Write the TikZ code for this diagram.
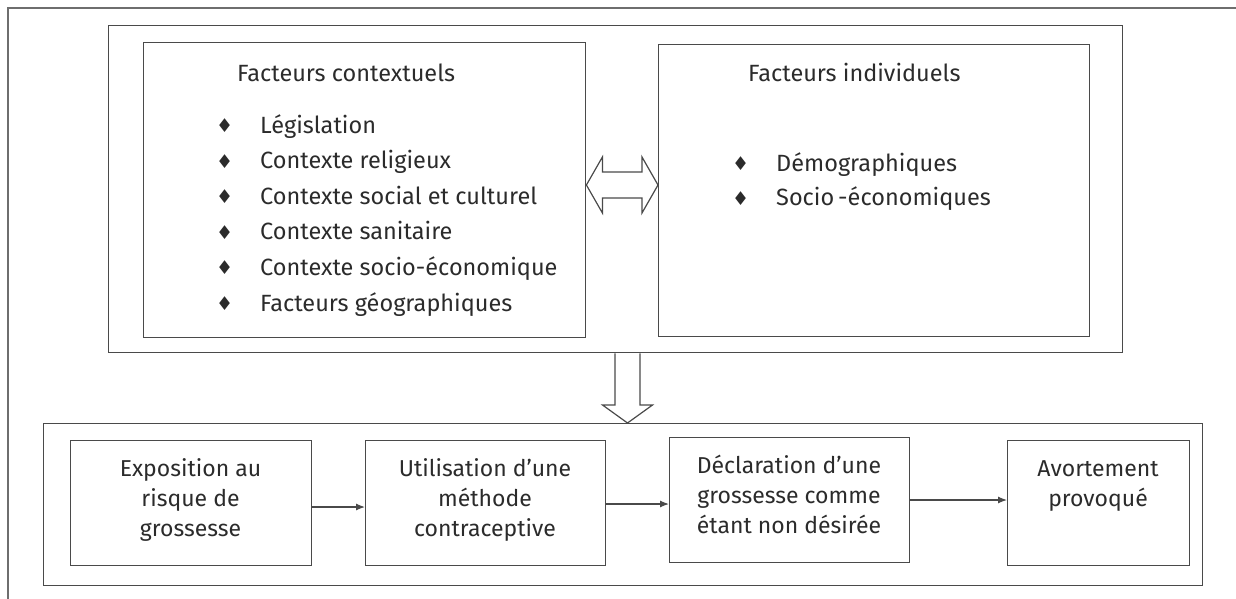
\documentclass[tikz,border=0pt]{standalone}
\usepackage{fontspec}
\setmainfont{Fira Sans}
\newfontfamily\symfont{DejaVu Sans}
\usetikzlibrary{arrows.meta,calc}
\definecolor{txt}{HTML}{2B2B2B}
\definecolor{ln}{HTML}{4A4A4A}
\definecolor{frm}{HTML}{6E6E6E}
\newcommand{\bul}{{\symfont\fontsize{19}{19}\selectfont ♦}}
\newcommand{\itm}[1]{\makebox[44pt][l]{\raisebox{0.5pt}{\bul}}#1}
\begin{document}
\begin{tikzpicture}[x=1pt,y=-1pt,
  box/.style={draw=ln, line width=1.4pt, inner sep=0pt, anchor=north west},
  lbl/.style={text=txt, inner sep=0pt, font=\fontsize{23}{30}\selectfont},
  item/.style={text=txt, inner sep=0pt, font=\fontsize{23.5}{30}\selectfont, anchor=base west},
  flow/.style={draw=ln, line width=1.2pt, -{Latex[length=9pt,width=7pt]}},
  big/.style={draw=ln, line width=1.2pt, fill=white, line join=miter}]
\useasboundingbox (0,0) rectangle (1236,599);
\draw[draw=frm, line width=1.6pt] (8,599) -- (8,8) -- (1236,8);

% containers and boxes
\node[box, minimum width=1014pt, minimum height=327pt] (T) at (108,25) {};
\node[box, minimum width=442pt, minimum height=295pt] (L) at (143,42) {};
\node[box, minimum width=431pt, minimum height=292pt] (R) at (658,44) {};
\node[box, minimum width=1159pt, minimum height=162pt] (B) at (43,423) {};
\node[box, minimum width=241pt, minimum height=125pt] (b1) at (70,440) {};
\node[box, minimum width=240pt, minimum height=125pt] (b2) at (365,440) {};
\node[box, minimum width=240pt, minimum height=125pt] (b3) at (669,437) {};
\node[box, minimum width=182pt, minimum height=125pt] (b4) at (1007,440) {};

% left box text
\node[item] (lt) at (237,82) {Facteurs contextuels};
\node[item] (c1) at (216,133) {\itm{Législation}};
\node[item] (c2) at (216,168.6) {\itm{Contexte religieux}};
\node[item] (c3) at (216,204.2) {\itm{Contexte social et culturel}};
\node[item] (c4) at (216,239.8) {\itm{Contexte sanitaire}};
\node[item] (c5) at (216,275.4) {\itm{Contexte socio-économique}};
\node[item] (c6) at (216,311) {\itm{Facteurs géographiques}};

% right box text
\node[item] (rt) at (748,81.7) {Facteurs individuels};
\node[item] (r1) at (732,171) {\itm{Démographiques}};
\node[item] (r2) at (732,205.7) {\itm{Socio\,-économiques}};

% bottom box texts
\node[lbl, anchor=base] (t1) at (190.5,476) {\begin{tabular}[t]{@{}c@{}}Exposition au\\risque de\\grossesse\end{tabular}};
\node[lbl, anchor=base] (t2) at (485,476.5) {\begin{tabular}[t]{@{}c@{}}Utilisation d’une\\méthode\\contraceptive\end{tabular}};
\node[lbl, anchor=base] (t3) at (789,473) {\begin{tabular}[t]{@{}c@{}}Déclaration d’une\\grossesse comme\\étant non désirée\end{tabular}};
\node[lbl, anchor=base] (t4) at (1098,476.5) {\begin{tabular}[t]{@{}c@{}}Avortement\\provoqué\end{tabular}};

% flow arrows
\draw[flow] (b1.east |- 0,507) -- (b2.west |- 0,507);
\draw[flow] (b2.east |- 0,504) -- (b3.west |- 0,504);
\draw[flow] (b3.east |- 0,500) -- (b4.west |- 0,500);

% double arrow between L and R
\coordinate (dl) at (L.east |- 0,185);
\coordinate (dr) at (R.west |- 0,185);
\draw[big] (dl) -- ($(dl)+(16,-28)$) -- ($(dl)+(16,-13)$) -- ($(dr)+(-16,-13)$) -- ($(dr)+(-16,-28)$) -- (dr)
  -- ($(dr)+(-16,28)$) -- ($(dr)+(-16,13)$) -- ($(dl)+(16,13)$) -- ($(dl)+(16,28)$) -- cycle;

% down arrow between T and B
\coordinate (ds) at (T.south -| 627.5,0);
\coordinate (de) at (B.north -| 627.5,0);
\draw[big] ($(ds)+(-12.5,0)$) -- ($(de)+(-12.5,-18)$) -- ($(de)+(-25,-18)$) -- (de)
  -- ($(de)+(25,-18)$) -- ($(de)+(12.5,-18)$) -- ($(ds)+(12.5,0)$);
\end{tikzpicture}
\end{document}
